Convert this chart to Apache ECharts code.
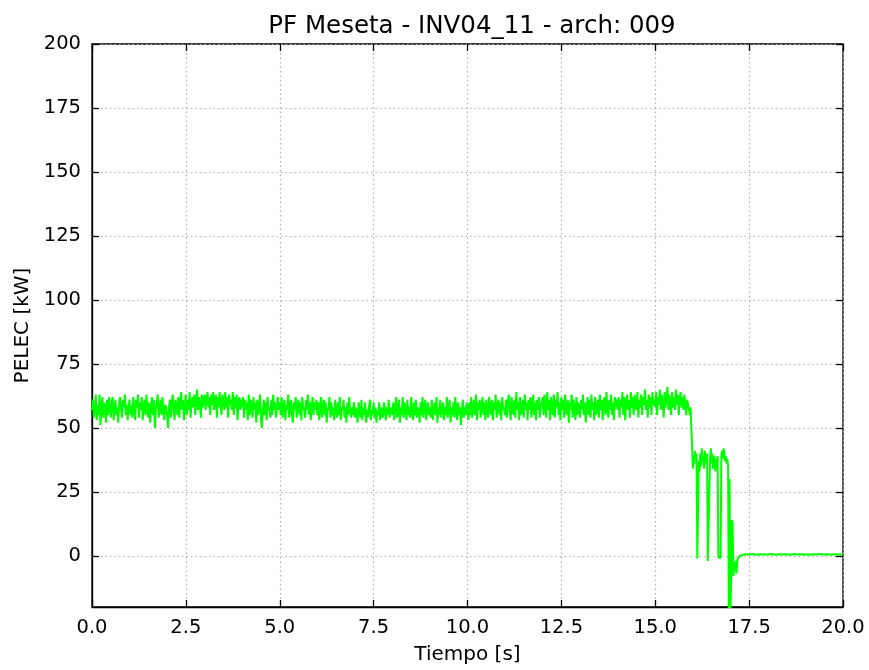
<!DOCTYPE html>
<html>
<head>
<meta charset="utf-8">
<script src="https://cdn.jsdelivr.net/npm/echarts@6/dist/echarts.min.js"></script>
<style>
  html, body { margin: 0; padding: 0; background: #fff; }
  #chart { width: 869px; height: 670px; }
</style>
</head>
<body>
<div id="chart"></div>
<script>
// tramo estable, muestreo 0.025 s desde 0.00 s (una fila por segundo)
const pasoRuido = 0.025
const pelecRuido = [
  57, 61, 54, 58, 63, 53, 59, 55, 63, 51, 58, 62, 54, 60, 57, 52, 61, 55, 62, 58, 54, 60, 62, 53, 57, 61, 55, 58, 52, 60, 62, 57, 54, 61, 58, 63, 55, 59, 53, 58,
  61, 55, 59, 54, 62, 57, 53, 61, 58, 63, 54, 60, 57, 62, 53, 58, 61, 55, 63, 57, 54, 60, 52, 58, 62, 55, 61, 50, 57, 60, 63, 54, 58, 61, 55, 62, 57, 53, 59, 58,
  55, 50, 58, 61, 54, 60, 63, 57, 53, 61, 58, 55, 62, 54, 60, 64, 57, 61, 53, 58, 63, 55, 61, 57, 64, 54, 59, 62, 58, 63, 55, 61, 65, 57, 62, 59, 54, 63, 58, 61,
  63, 57, 61, 64, 58, 62, 55, 63, 59, 64, 57, 61, 63, 54, 62, 58, 64, 59, 55, 63, 61, 57, 64, 58, 62, 54, 63, 59, 61, 57, 64, 55, 62, 58, 63, 53, 59, 62, 57, 61,
  58, 62, 54, 61, 57, 60, 53, 63, 55, 61, 58, 54, 62, 57, 60, 52, 61, 55, 58, 63, 54, 50, 57, 61, 55, 60, 53, 62, 57, 58, 54, 61, 55, 63, 57, 60, 54, 58, 62, 57,
  60, 55, 62, 54, 58, 61, 53, 59, 57, 63, 54, 58, 61, 55, 52, 60, 57, 62, 54, 58, 61, 55, 60, 53, 62, 57, 58, 54, 61, 57, 63, 55, 60, 53, 58, 62, 55, 60, 57, 61,
  55, 60, 53, 58, 62, 54, 57, 61, 55, 60, 52, 58, 57, 62, 54, 60, 55, 58, 53, 61, 57, 54, 60, 55, 62, 53, 58, 57, 61, 54, 58, 52, 60, 55, 62, 57, 54, 58, 55, 60,
  54, 58, 55, 52, 60, 57, 54, 61, 53, 58, 55, 60, 52, 57, 54, 58, 61, 53, 57, 55, 60, 54, 58, 52, 57, 55, 60, 53, 58, 55, 54, 60, 57, 53, 58, 55, 61, 54, 57, 58,
  55, 60, 53, 58, 62, 54, 57, 61, 52, 58, 55, 62, 54, 60, 57, 53, 61, 55, 58, 54, 62, 57, 53, 60, 55, 61, 54, 58, 57, 52, 60, 55, 62, 54, 58, 61, 53, 57, 60, 55,
  58, 54, 61, 53, 57, 60, 55, 62, 52, 58, 55, 61, 54, 57, 60, 53, 58, 55, 62, 54, 57, 61, 52, 58, 55, 60, 54, 62, 57, 53, 60, 55, 58, 51, 57, 61, 54, 58, 55, 60,
  57, 53, 60, 55, 62, 54, 58, 61, 55, 63, 53, 60, 57, 61, 54, 58, 62, 55, 60, 53, 61, 57, 54, 62, 58, 55, 61, 53, 60, 57, 63, 54, 58, 61, 55, 60, 53, 62, 57, 58,
  55, 61, 54, 60, 63, 57, 53, 62, 58, 55, 61, 54, 64, 57, 60, 53, 62, 55, 58, 61, 54, 63, 57, 60, 53, 61, 57, 62, 54, 58, 63, 55, 60, 53, 61, 57, 62, 54, 58, 60,
  62, 55, 63, 58, 54, 64, 57, 61, 53, 62, 59, 55, 63, 54, 61, 58, 64, 55, 60, 53, 62, 57, 61, 54, 63, 58, 55, 61, 52, 60, 57, 63, 54, 61, 58, 53, 62, 55, 60, 57,
  54, 61, 57, 63, 55, 60, 52, 58, 62, 55, 61, 54, 63, 57, 60, 53, 62, 55, 58, 61, 54, 63, 57, 61, 53, 60, 62, 55, 64, 58, 54, 61, 57, 63, 55, 60, 53, 62, 58, 61,
  57, 62, 54, 61, 58, 64, 55, 62, 53, 60, 63, 57, 61, 54, 64, 58, 62, 55, 63, 59, 57, 64, 54, 61, 58, 63, 55, 62, 59, 65, 57, 61, 54, 63, 58, 62, 55, 64, 59, 61,
  58, 64, 55, 62, 59, 65, 57, 63, 60, 54, 64, 58, 62, 66, 57, 63, 59, 55, 64, 58, 62, 57, 65, 59, 63, 55, 61, 64, 58, 62, 57, 63, 59, 55, 61
]

// caida de potencia
const tiempoCaida = [
  15.90, 15.92, 15.94, 15.96, 15.98, 16.00, 16.02, 16.04, 16.06, 16.08,
  16.10, 16.12, 16.14, 16.16, 16.18, 16.20, 16.22, 16.24, 16.26, 16.28,
  16.30, 16.32, 16.34, 16.36, 16.38, 16.40, 16.42, 16.44, 16.46, 16.48,
  16.50, 16.52, 16.54, 16.56, 16.58, 16.60, 16.62, 16.64, 16.66, 16.68,
  16.70, 16.72, 16.74, 16.76, 16.78, 16.80, 16.82, 16.84, 16.86, 16.88,
  16.90, 16.92, 16.94, 16.96, 16.98, 17.00, 17.02, 17.04, 17.06, 17.08,
  17.10, 17.12, 17.14, 17.16, 17.18, 17.20, 17.25
]
const pelecCaida = [
  57, 55, 58, 50, 44, 34, 39, 36, 41, 38,
  40, -1, -1, 37, 33, 40, 35, 42, 37, 39,
  34, 41, 38, 36, 40, -2, -2, -2, 38, 42,
  36, 40, 34, 39, 37, 33, 38, 36, 39, 0,
  -1, 0, -1, 39, 41, 38, 42, 40, 37, 39,
  36, 38, 35, -22, 30, -25, -10, 14, 13, -8,
  -3, -6, -2, -7, -3, -1, 0
]

// tramo final, muestreo 0.1 s desde 17.3 s
const inicioFinal = 17.3
const pasoFinal = 0.1
const pelecFinal = [
  0.4, 0.6, 0.5, 0.7, 0.4, 0.6, 0.5, 0.5, 0.7, 0.4,
  0.6, 0.5, 0.6, 0.4, 0.7, 0.5, 0.6, 0.5, 0.4, 0.6,
  0.5, 0.7, 0.5, 0.6, 0.4, 0.6, 0.5, 0.6
]

const ticksY = [0, 25, 50, 75, 100, 125, 150, 175, 200]

const datos = []
pelecRuido.forEach((v, i) => datos.push([+(i * pasoRuido).toFixed(3), v]))
tiempoCaida.forEach((t, i) => datos.push([t, pelecCaida[i]]))
pelecFinal.forEach((v, i) => datos.push([+(inicioFinal + i * pasoFinal).toFixed(2), v]))

const fuente = 'DejaVu Sans'
const tick = { show: true, inside: true, length: 7, lineStyle: { color: '#000', width: 1.3 } }
const rejilla = { show: true, lineStyle: { color: '#b0b0b0', type: [1.5, 3], width: 1.2 } }

const chart = echarts.init(document.getElementById('chart'))
chart.setOption({
  animation: false,
  backgroundColor: '#fff',
  title: {
    text: 'PF Meseta - INV04_11 - arch: 009',
    left: 467, top: 9, textAlign: 'center',
    textStyle: { fontFamily: fuente, fontSize: 24.5, fontWeight: 'normal', color: '#000' }
  },
  grid: { left: 92, right: 26, top: 44, bottom: 58, show: true, borderColor: '#000', borderWidth: 1.3, backgroundColor: 'transparent' },
  xAxis: [{
    type: 'value', min: 0, max: 20, interval: 2.5,
    name: 'Tiempo [s]', nameLocation: 'middle', nameGap: 38,
    nameTextStyle: { fontFamily: fuente, fontSize: 20, color: '#000' },
    axisLine: { show: true, onZero: false, lineStyle: { color: '#000', width: 1.3 } },
    axisTick: tick,
    axisLabel: { margin: 11, fontFamily: fuente, fontSize: 19.5, color: '#000', formatter: v => v.toFixed(1) },
    splitLine: rejilla
  }, {
    type: 'value', min: 0, max: 20, interval: 2.5, position: 'top',
    axisLine: { show: false, onZero: false }, axisTick: tick, axisLabel: { show: false }, splitLine: { show: false }
  }],
  yAxis: [{
    type: 'value', min: -20, max: 200,
    name: 'PELEC [kW]', nameLocation: 'middle', nameGap: 58, nameRotate: 90,
    nameTextStyle: { fontFamily: fuente, fontSize: 20, color: '#000' },
    axisLine: { show: true, onZero: false, lineStyle: { color: '#000', width: 1.3 } },
    axisTick: Object.assign({}, tick, { customValues: ticksY }),
    axisLabel: { margin: 11, fontFamily: fuente, fontSize: 19.5, color: '#000', customValues: ticksY },
    splitLine: rejilla
  }, {
    type: 'value', min: -20, max: 200, position: 'right',
    axisLine: { show: false, onZero: false },
    axisTick: Object.assign({}, tick, { customValues: ticksY }),
    axisLabel: { show: false, customValues: ticksY },
    splitLine: { show: false }
  }],
  series: [{
    type: 'line',
    data: datos,
    showSymbol: false,
    clip: true,
    lineStyle: { color: '#00ff00', width: 2 },
    itemStyle: { color: '#00ff00' }
  }]
})
</script>
</body>
</html>
